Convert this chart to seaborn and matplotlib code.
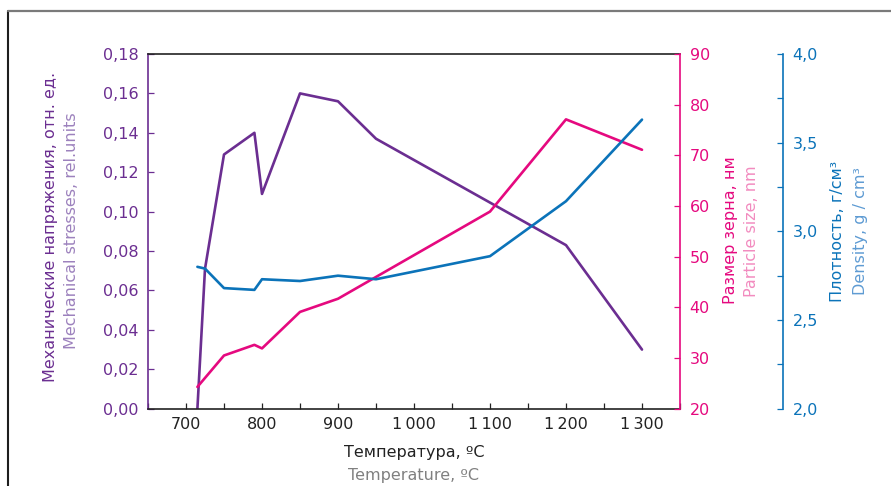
import matplotlib
matplotlib.use("Agg")
import matplotlib.pyplot as plt
import seaborn as sns
from matplotlib.lines import Line2D
from matplotlib.ticker import MultipleLocator, FuncFormatter

# Sintering temperature series, ºC
temp_stress = [715, 725, 750, 790, 800, 850, 900, 950, 1200, 1300]
stress = [0.000, 0.071, 0.129, 0.140, 0.109, 0.160, 0.156, 0.137, 0.083, 0.030]

temp_size = [715, 750, 790, 800, 850, 900, 1100, 1200, 1300]
size_nm = [24.3, 30.5, 32.6, 31.9, 39.1, 41.7, 58.9, 77.1, 71.1]

temp_density = [715, 725, 750, 790, 800, 850, 900, 950, 1100, 1200, 1300]
density = [2.80, 2.79, 2.68, 2.67, 2.73, 2.72, 2.75, 2.73, 2.86, 3.17, 3.63]

x_ticks = [700, 800, 900, 1000, 1100, 1200, 1300]

PURPLE = "#6b2e91"
PURPLE_LT = "#9c81bd"
PINK = "#e5097f"
PINK_LT = "#f28bbf"
BLUE = "#0b73b9"
BLUE_LT = "#5e9bd3"
DARK = "#222222"
GREY = "#808080"

sns.set_style("ticks")
plt.rcParams["font.family"] = ["DejaVu Sans"]

W, H = 891, 486
fig = plt.figure(figsize=(W / 100, H / 100), dpi=100)
x0, x1, y0, y1 = 148, 680, 54, 408.7
ax = fig.add_axes([x0 / W, 1 - y1 / H, (x1 - x0) / W, (y1 - y0) / H])
ax2 = ax.twinx()
ax3 = ax.twinx()
ax3.spines["right"].set_position(("axes", (783 - x0) / (x1 - x0)))

lw = 1.9
sns.lineplot(x=temp_stress, y=stress, ax=ax, color=PURPLE, lw=lw, legend=False)
sns.lineplot(x=temp_size, y=size_nm, ax=ax2, color=PINK, lw=lw, legend=False)
sns.lineplot(x=temp_density, y=density, ax=ax3, color=BLUE, lw=lw, legend=False)

ax.set_xlim(650, 1350)
ax.set_ylim(0, 0.18)
ax2.set_ylim(20, 90)
ax3.set_ylim(2.0, 4.0)
for a in (ax, ax2, ax3):
    a.set_xlabel("")
    a.set_ylabel("")

# spines
ax.spines["left"].set_color(PURPLE)
ax.spines["bottom"].set_color(DARK)
ax.spines["top"].set_color(DARK)
ax.spines["right"].set_visible(False)
for s in ("left", "top", "bottom"):
    ax2.spines[s].set_visible(False)
    ax3.spines[s].set_visible(False)
ax2.spines["right"].set_color(PINK)
ax3.spines["right"].set_color(BLUE)
for a in (ax, ax2, ax3):
    for s in a.spines.values():
        s.set_linewidth(1.2)

tick_len = 4.6
fs = 11.5

# x axis
ax.set_xticks(x_ticks)
ax.xaxis.set_minor_locator(MultipleLocator(50))
ax.xaxis.set_major_formatter(FuncFormatter(
    lambda v, p: f"{int(v):,}".replace(",", "\u2009")))
ax.tick_params(axis="x", which="both", direction="in", length=tick_len,
               width=0.9, color=DARK, labelcolor=DARK, labelsize=fs, pad=6)

# left axis: mechanical stresses
ax.yaxis.set_major_locator(MultipleLocator(0.02))
ax.yaxis.set_major_formatter(FuncFormatter(lambda v, p: f"{v:.2f}".replace(".", ",")))
ax.tick_params(axis="y", direction="in", length=tick_len, width=0.9,
               color=PURPLE, labelcolor=PURPLE, labelsize=fs, pad=7)

# right axis: particle size
ax2.yaxis.set_major_locator(MultipleLocator(10))
ax2.yaxis.set_major_formatter(FuncFormatter(lambda v, p: f"{int(round(v))}"))
ax2.tick_params(axis="y", direction="in", length=tick_len, width=0.9,
                color=PINK, labelcolor=PINK, labelsize=fs, pad=7)

# outer right axis: density
ax3.yaxis.set_major_locator(MultipleLocator(0.5))
ax3.yaxis.set_minor_locator(MultipleLocator(0.25))
ax3.yaxis.set_major_formatter(FuncFormatter(lambda v, p: f"{v:.1f}".replace(".", ",")))
ax3.tick_params(axis="y", which="both", direction="in", length=tick_len, width=0.9,
                color=BLUE, labelcolor=BLUE, labelsize=fs, pad=7)

# axis titles (Russian / English)
def ftxt(px, py, s, color, rot=90):
    fig.text(px / W, 1 - py / H, s, color=color, fontsize=11.5, rotation=rot,
             ha="center", va="center")

ftxt(51, 227, "Механические напряжения, отн. ед.", PURPLE)
ftxt(72, 231, "Mechanical stresses, rel.units", PURPLE_LT)
ftxt(730, 230, "Размер зерна, нм", PINK)
ftxt(751, 231, "Particle size, nm", PINK_LT)
ftxt(838, 231, "Плотность, г/см³", BLUE)
ftxt(860, 231, "Density, g / cm³", BLUE_LT)
ftxt(414, 452, "Температура, ºC", DARK, rot=0)
ftxt(414, 475, "Temperature, ºC", GREY, rot=0)

# outer frame
fig.add_artist(Line2D([8 / W, 8 / W], [0, 1 - 11 / H], transform=fig.transFigure,
                      color="#1e1e1e", lw=1.5))
fig.add_artist(Line2D([8 / W, 1], [1 - 11 / H, 1 - 11 / H], transform=fig.transFigure,
                      color="#7a7a7a", lw=1.6))

fig.savefig("out.png", dpi=100)
